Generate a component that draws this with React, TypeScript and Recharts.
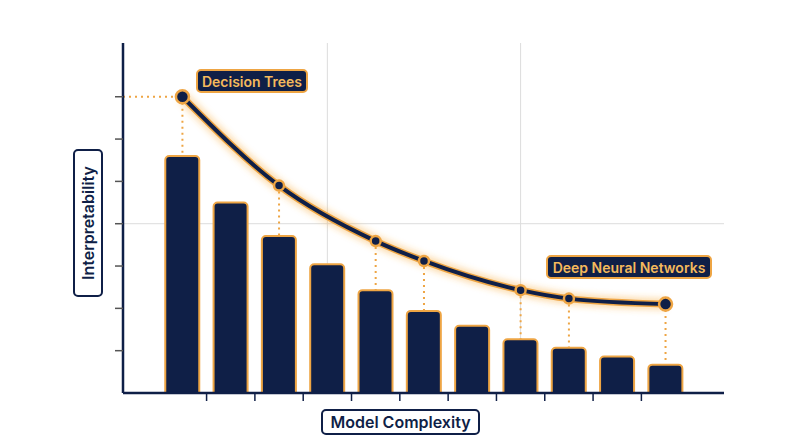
import React from "react";
import {
  ComposedChart,
  Bar,
  Line,
  XAxis,
  YAxis,
  CartesianGrid,
  ReferenceLine,
} from "recharts";

const NAVY = "#0f1f47";
const ORANGE = "#eea544";
const LABEL_TEXT = "#f4b95c";
const GRID = "#dcdcdc";
const FONT = "Inter, 'Noto Sans', sans-serif";

// model complexity steps (left = simple, right = complex)
const complexitySteps = [0, 1, 2, 3, 4, 5, 6, 7, 8, 9, 10];
const barValues = [5.6, 4.5, 3.71, 3.04, 2.43, 1.94, 1.59, 1.27, 1.07, 0.86, 0.67];
const curveValues = [7.0, null, 4.9, null, 3.59, 3.12, null, 2.43, 2.23, null, 2.1];
const yTicks = [1, 2, 3, 4, 5, 6, 7];
const xTicks = [0.5, 1.5, 2.5, 3.5, 4.5, 5.5, 6.5, 7.5, 8.5, 9.5];
const xGrid = [3, 7];
const yGrid = [4];
const X_DOMAIN: [number, number] = [-1.23, 11.21];
const Y_DOMAIN: [number, number] = [0, 8.27];

const data = complexitySteps.map((x, i) => ({
  x,
  bar: barValues[i],
  curve: curveValues[i],
}));

const lastIdx = complexitySteps.length - 1;

const renderDot = (props: any) => {
  const { cx, cy, index, payload } = props;
  if (payload.curve == null || cx == null || cy == null) return <g key={`d-${index}`} />;
  const big = index === 0 || index === lastIdx;
  return (
    <circle
      key={`d-${index}`}
      cx={cx}
      cy={cy}
      r={big ? 6.5 : 5}
      fill={NAVY}
      stroke={ORANGE}
      strokeWidth={2.5}
    />
  );
};

// tick marks only, no labels
const noLabel = () => <g />;

const boxStyle: React.CSSProperties = {
  position: "absolute",
  boxSizing: "border-box",
  background: NAVY,
  border: `2px solid ${ORANGE}`,
  borderRadius: 5,
  color: LABEL_TEXT,
  fontFamily: FONT,
  fontWeight: 600,
  fontSize: 14,
  display: "flex",
  alignItems: "center",
  justifyContent: "center",
};

const titleStyle: React.CSSProperties = {
  position: "absolute",
  boxSizing: "border-box",
  background: "#fff",
  border: `2px solid ${NAVY}`,
  borderRadius: 5,
  color: NAVY,
  fontFamily: FONT,
  fontWeight: 600,
  fontSize: 16,
  display: "flex",
  alignItems: "center",
  justifyContent: "center",
};

export default function App() {
  return (
    <div style={{ position: "absolute", left: 0, top: 0, width: 800, height: 447, background: "#fff" }}>
      <ComposedChart
        width={800}
        height={447}
        data={data}
        margin={{ top: 43, right: 76, left: 113, bottom: 44 }}
      >
        <defs>
          <filter id="glow" x="-20%" y="-50%" width="140%" height="200%">
            <feGaussianBlur stdDeviation="3" />
          </filter>
        </defs>

        <CartesianGrid
          stroke={GRID}
          strokeWidth={1}
          horizontalValues={yGrid}
          verticalValues={xGrid}
        />

        <XAxis
          dataKey="x"
          type="number"
          domain={X_DOMAIN}
          ticks={xTicks}
          tick={noLabel}
          height={10}
          axisLine={{ stroke: NAVY, strokeWidth: 2.5 }}
          tickLine={{ stroke: NAVY, strokeWidth: 1.5 }}
          tickSize={8}
          allowDataOverflow
        />
        <YAxis
          type="number"
          domain={Y_DOMAIN}
          ticks={yTicks}
          tick={noLabel}
          width={10}
          axisLine={{ stroke: NAVY, strokeWidth: 2.5 }}
          tickLine={{ stroke: "#555", strokeWidth: 1.5 }}
          tickSize={8}
          allowDataOverflow
        />

        <Bar
          dataKey="bar"
          barSize={34}
          fill={NAVY}
          stroke={ORANGE}
          strokeWidth={2}
          radius={[4, 4, 0, 0]}
          isAnimationActive={false}
        />

        {/* dotted leaders from the curve down to the bars */}
        {data
          .filter((d) => d.curve != null)
          .map((d) => (
            <ReferenceLine
              key={`lead-${d.x}`}
              segment={[
                { x: d.x, y: d.curve as number },
                { x: d.x, y: d.bar },
              ]}
              stroke={ORANGE}
              strokeWidth={2}
              strokeDasharray="2 4"
            />
          ))}
        <ReferenceLine
          segment={[
            { x: X_DOMAIN[0], y: curveValues[0] as number },
            { x: 0, y: curveValues[0] as number },
          ]}
          stroke={ORANGE}
          strokeWidth={2}
          strokeDasharray="2 4"
        />

        <Line
          dataKey="curve"
          type="monotone"
          connectNulls
          stroke="#f7a93a"
          strokeWidth={12}
          strokeOpacity={0.4}
          filter="url(#glow)"
          dot={false}
          activeDot={false}
          isAnimationActive={false}
        />
        <Line
          dataKey="curve"
          type="monotone"
          connectNulls
          stroke={ORANGE}
          strokeWidth={7}
          dot={false}
          activeDot={false}
          isAnimationActive={false}
        />
        <Line
          dataKey="curve"
          type="monotone"
          connectNulls
          stroke={NAVY}
          strokeWidth={4}
          dot={renderDot}
          activeDot={false}
          isAnimationActive={false}
        />
      </ComposedChart>

      <div style={{ ...boxStyle, left: 196, top: 69, width: 112, height: 24 }}>Decision Trees</div>
      <div style={{ ...boxStyle, left: 546, top: 255, width: 166, height: 24 }}>Deep Neural Networks</div>

      <div style={{ ...titleStyle, left: 321, top: 409, width: 159, height: 26 }}>Model Complexity</div>
      <div
        style={{
          ...titleStyle,
          left: 88 - 74,
          top: 223 - 15,
          width: 148,
          height: 30,
          transform: "rotate(-90deg)",
        }}
      >
        Interpretability
      </div>
    </div>
  );
}
